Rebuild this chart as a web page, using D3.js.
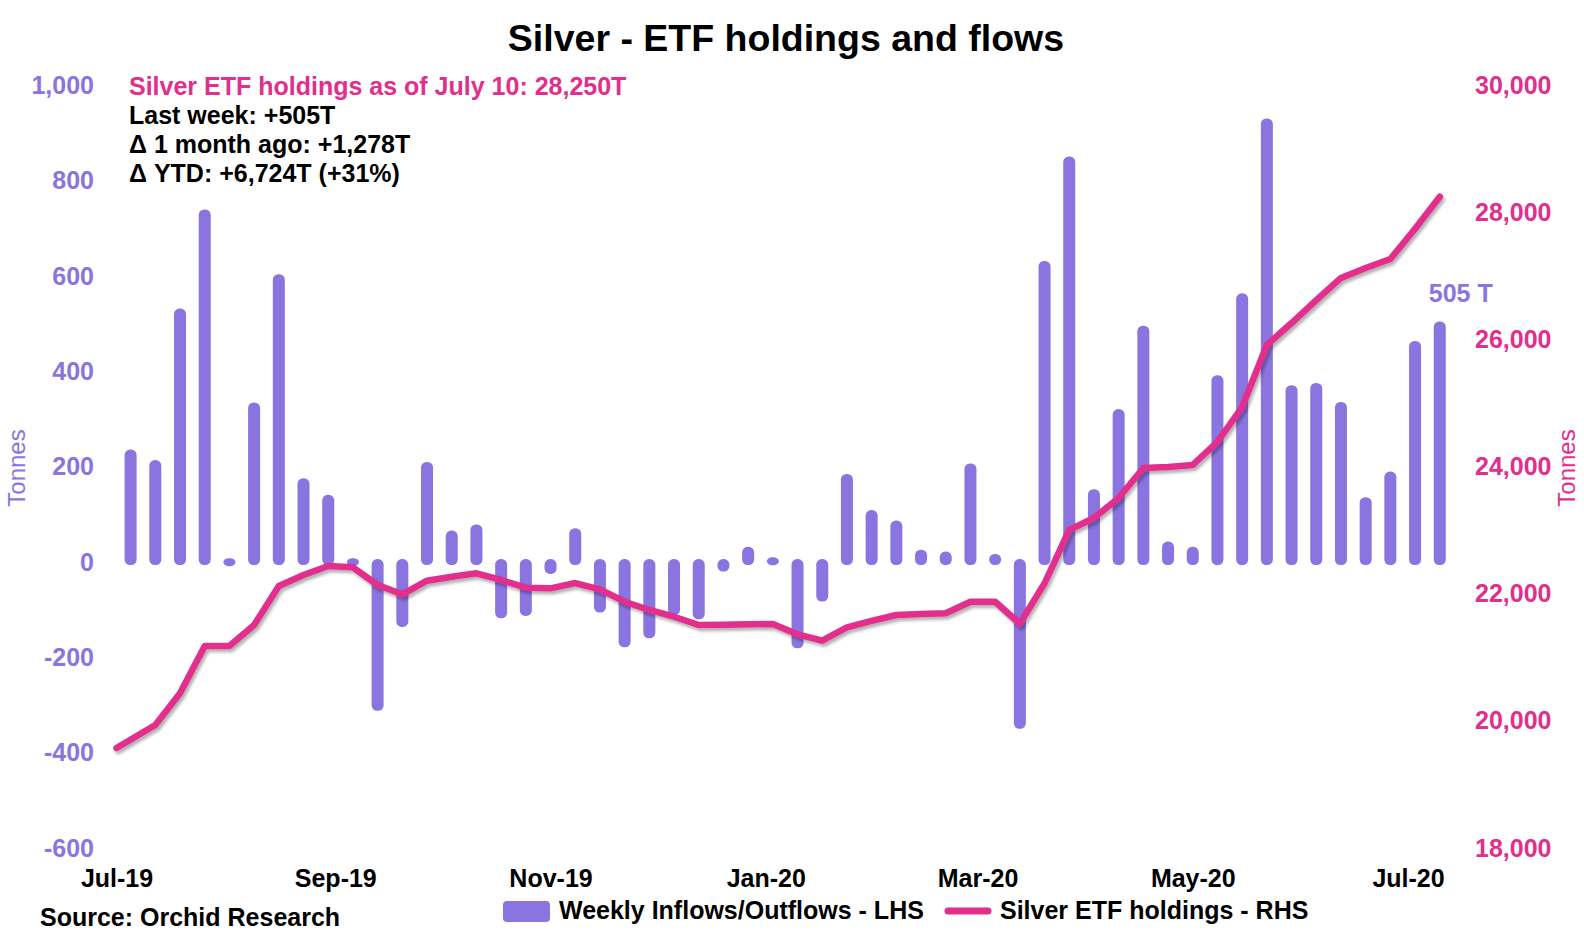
<!DOCTYPE html>
<html>
<head>
<meta charset="utf-8">
<script src="https://cdn.jsdelivr.net/npm/d3@7"></script>
<style>
  html, body { margin: 0; padding: 0; background: #fff; }
  svg { display: block; font-family: "Liberation Sans", Arial, sans-serif; }
</style>
</head>
<body>
<svg id="chart" width="1584" height="952"></svg>
<script>
// ---------------- DATA ----------------
const weeks = [
  "2019-07-05","2019-07-12","2019-07-19","2019-07-26","2019-08-02","2019-08-09","2019-08-16","2019-08-23","2019-08-30",
  "2019-09-06","2019-09-13","2019-09-20","2019-09-27","2019-10-04","2019-10-11","2019-10-18","2019-10-25",
  "2019-11-01","2019-11-08","2019-11-15","2019-11-22","2019-11-29","2019-12-06","2019-12-13","2019-12-20","2019-12-27",
  "2020-01-03","2020-01-10","2020-01-17","2020-01-24","2020-01-31","2020-02-07","2020-02-14","2020-02-21","2020-02-28",
  "2020-03-06","2020-03-13","2020-03-20","2020-03-27","2020-04-03","2020-04-10","2020-04-17","2020-04-24",
  "2020-05-01","2020-05-08","2020-05-15","2020-05-22","2020-05-29","2020-06-05","2020-06-12","2020-06-19","2020-06-26",
  "2020-07-03","2020-07-10"
];
// Weekly inflows / outflows (tonnes, LHS)
const flows = [
  236, 214, 532, 740, 6, 335, 604, 176, 141,
  6, -312, -136, 210, 66, 79, -118, -113,
  -25, 71, -106, -179, -160, -112, -120, -20, 32,
  -3, -181, -83, 185, 109, 87, 26, 22, 207,
  17, -350, 632, 851, 153, 321, 496, 43,
  32, 392, 564, 931, 371, 376, 336, 136, 190,
  464, 505
];
// Silver ETF holdings (tonnes, RHS); first point is the start of the period
const holdingDates = ["2019-07-01"].concat(weeks.slice(1));
const holdings = [
  19574, 19936, 20435, 21179, 21179, 21510, 22123, 22296, 22438,
  22418, 22139, 21993, 22207, 22270, 22323, 22218, 22097,
  22087, 22170, 22071, 21876, 21746, 21640, 21510, 21515, 21520,
  21526, 21363, 21263, 21473, 21573, 21667, 21683, 21694, 21876,
  21876, 21529, 22166, 23005, 23194, 23508, 23980, 23996,
  24028, 24390, 24940, 25916, 26262, 26624, 26972, 27128, 27270,
  27745, 28250
];
const xTickDates = ["2019-07-01","2019-09-01","2019-11-01","2020-01-01","2020-03-01","2020-05-01","2020-07-01"];
const xTickLabels = ["Jul-19","Sep-19","Nov-19","Jan-20","Mar-20","May-20","Jul-20"];
const leftTicks = [-600, -400, -200, 0, 200, 400, 600, 800, 1000];
const rightTicks = [18000, 20000, 22000, 24000, 26000, 28000, 30000];
const titleText = "Silver - ETF holdings and flows";
const noteHead = "Silver ETF holdings as of July 10: 28,250T";
const noteLines = ["Last week: +505T", "\u0394 1 month ago: +1,278T", "\u0394 YTD: +6,724T (+31%)"];
const lastLabel = "505 T";
const sourceText = "Source: Orchid Research";
const legendItems = ["Weekly Inflows/Outflows - LHS", "Silver ETF holdings - RHS"];

// ---------------- STYLE ----------------
const PURPLE = "#8A74E0";
const PINK = "#E22E8C";
const FONT = "25px";

const parse = d3.utcParse("%Y-%m-%d");
const svg = d3.select("#chart");

const x = d3.scaleUtc()
  .domain([parse("2019-07-01"), parse("2020-07-01")])
  .range([116.5, 1408]);
const yL = d3.scaleLinear().domain([-600, 1000]).range([848, 85.5]);
const yR = d3.scaleLinear().domain([18000, 30000]).range([848, 85.5]);

const defs = svg.append("defs");
const f = defs.append("filter").attr("id", "shadow")
  .attr("x", "-5%").attr("y", "-5%").attr("width", "110%").attr("height", "120%");
f.append("feDropShadow").attr("dx", 2).attr("dy", 3).attr("stdDeviation", 1.8)
  .attr("flood-color", "#000").attr("flood-opacity", 0.3);

// Title
svg.append("text").attr("x", 786).attr("y", 51).attr("text-anchor", "middle")
  .style("font-size", "37.5px").style("font-weight", "bold").attr("fill", "#000")
  .text(titleText);

// Left axis
const fmt = v => d3.format(",")(v).replace("\u2212", "-");
const gL = svg.append("g").attr("transform", "translate(97,0)")
  .call(d3.axisLeft(yL).tickValues(leftTicks).tickFormat(fmt).tickSize(0).tickPadding(3));
gL.select(".domain").remove();
gL.selectAll("text").attr("fill", PURPLE).style("font-size", FONT).style("font-weight", "bold")
  .style("font-family", "'Liberation Sans', Arial, sans-serif");

// Right axis
const gR = svg.append("g").attr("transform", "translate(1472,0)")
  .call(d3.axisRight(yR).tickValues(rightTicks).tickFormat(fmt).tickSize(0).tickPadding(3));
gR.select(".domain").remove();
gR.selectAll("text").attr("fill", PINK).style("font-size", FONT).style("font-weight", "bold")
  .style("font-family", "'Liberation Sans', Arial, sans-serif");

// Bottom axis
const gX = svg.append("g").attr("transform", "translate(0,868)")
  .call(d3.axisBottom(x).tickValues(xTickDates.map(parse))
    .tickFormat((d, i) => xTickLabels[i]).tickSize(0).tickPadding(0));
gX.select(".domain").remove();
gX.selectAll("text").attr("fill", "#000").attr("dy", "0.75em").style("font-size", FONT).style("font-weight", "bold")
  .style("font-family", "'Liberation Sans', Arial, sans-serif");

// Axis titles
svg.append("text").attr("transform", "translate(25,468) rotate(-90)").attr("text-anchor", "middle")
  .style("font-size", "24px").attr("fill", PURPLE).text("Tonnes");
svg.append("text").attr("transform", "translate(1575,468) rotate(-90)").attr("text-anchor", "middle")
  .style("font-size", "24px").attr("fill", PINK).text("Tonnes");

// Bars
const barW = 12;
const y0 = yL(0);
const barData = weeks.map((w, i) => ({ date: parse(w), v: flows[i] }));
const barTop = d => d.v >= 0 ? yL(d.v) : y0 - 3;
const barBot = d => d.v >= 0 ? y0 + 3 : yL(d.v);
const barH = d => Math.max(barBot(d) - barTop(d), 8);
svg.append("g").selectAll("rect").data(barData).join("rect")
  .attr("x", d => x(d.date) - barW / 2)
  .attr("width", barW)
  .attr("y", d => (barTop(d) + barBot(d)) / 2 - barH(d) / 2)
  .attr("height", barH)
  .attr("rx", 5.5)
  .attr("fill", PURPLE);

// Line
const lineData = holdingDates.map((d, i) => ({ date: parse(d), v: holdings[i] }));
svg.append("path").datum(lineData)
  .attr("d", d3.line().x(d => x(d.date)).y(d => yR(d.v)))
  .attr("fill", "none").attr("stroke", PINK).attr("stroke-width", 6.5)
  .attr("stroke-linejoin", "round").attr("stroke-linecap", "round")
  .attr("filter", "url(#shadow)");

// Last value label
const last = barData[barData.length - 1];
svg.append("text").attr("x", x(last.date) - 11).attr("y", yL(last.v) - 19)
  .style("font-size", FONT).style("font-weight", "bold").attr("fill", PURPLE).text(lastLabel);

// Notes
svg.append("text").attr("x", 129).attr("y", 95).style("font-size", FONT).style("font-weight", "bold")
  .attr("fill", PINK).text(noteHead);
noteLines.forEach((t, i) => {
  svg.append("text").attr("x", 129).attr("y", 124 + i * 29).style("font-size", FONT).style("font-weight", "bold")
    .attr("fill", "#000").text(t);
});

// Source
svg.append("text").attr("x", 40).attr("y", 926).style("font-size", FONT).style("font-weight", "bold")
  .attr("fill", "#000").text(sourceText);

// Legend
const lg = svg.append("g");
lg.append("rect").attr("x", 503).attr("y", 901).attr("width", 47).attr("height", 21).attr("rx", 4).attr("fill", PURPLE);
lg.append("text").attr("x", 559).attr("y", 919).style("font-size", FONT).style("font-weight", "bold")
  .attr("fill", "#000").text(legendItems[0]);
lg.append("line").attr("x1", 948).attr("x2", 988).attr("y1", 911).attr("y2", 911)
  .attr("stroke", PINK).attr("stroke-width", 7).attr("stroke-linecap", "round");
lg.append("text").attr("x", 1000).attr("y", 919).style("font-size", FONT).style("font-weight", "bold")
  .attr("fill", "#000").text(legendItems[1]);
</script>
</body>
</html>
